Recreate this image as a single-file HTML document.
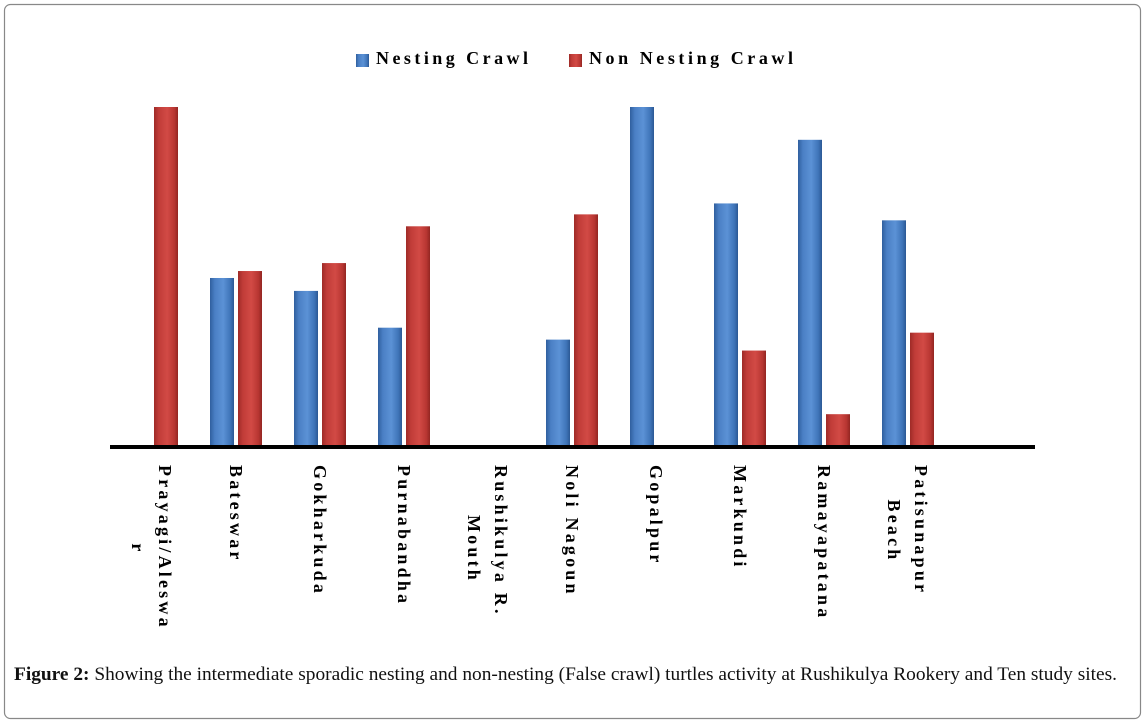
<!DOCTYPE html>
<html><head><meta charset="utf-8"><style>
html,body{margin:0;padding:0;background:#fff;}
#wrap{position:relative;width:1146px;height:724px;overflow:hidden;}
</style></head><body>
<div id="wrap">
<svg id="chart" width="1146" height="724" xmlns="http://www.w3.org/2000/svg">
<defs>
<linearGradient id="gb" x1="0" x2="1" y1="0" y2="0">
<stop offset="0" stop-color="#2f5f9e"/><stop offset="0.2" stop-color="#4a7fc4"/><stop offset="0.55" stop-color="#5b92d6"/><stop offset="0.85" stop-color="#3f74b8"/><stop offset="1" stop-color="#2b5894"/>
</linearGradient>
<linearGradient id="gr" x1="0" x2="1" y1="0" y2="0">
<stop offset="0" stop-color="#9e2a27"/><stop offset="0.2" stop-color="#c03c38"/><stop offset="0.55" stop-color="#d24a45"/><stop offset="0.85" stop-color="#b83632"/><stop offset="1" stop-color="#922622"/>
</linearGradient>
</defs>
<rect x="4.5" y="4.5" width="1136" height="714" rx="6" fill="none" stroke="#888" stroke-width="1.2"/>
<g font-family="'Liberation Serif',serif" font-weight="bold" font-size="18">
<rect x="356" y="54" width="13" height="13" fill="url(#gb)"/>
<text x="376" y="64" textLength="152" lengthAdjust="spacing">Nesting  Crawl</text>
<rect x="569" y="54" width="13" height="13" fill="url(#gr)"/>
<text x="589" y="64" textLength="204" lengthAdjust="spacing">Non  Nesting  Crawl</text>
</g>
<g id="bars"></g>
<line x1="110" y1="447" x2="1035" y2="447" stroke="#000" stroke-width="4"/>
<g id="labels" font-family="'Liberation Serif',serif" font-weight="bold" font-size="18" letter-spacing="3.2"></g>
<text x="14" y="680" textLength="1103" lengthAdjust="spacingAndGlyphs" font-family="'Liberation Serif',serif" font-size="18.5" fill="#111"><tspan font-weight="bold">Figure 2:</tspan> Showing the intermediate sporadic nesting and non-nesting (False crawl) turtles activity at Rushikulya Rookery and Ten study sites.</text>
</svg>
</div>
<script>
const categories = [["Prayagi/Aleswa","r"],["Bateswar"],["Gokharkuda"],["Purnabandha"],["Rushikulya  R.","Mouth"],["Noli  Nagoun"],["Gopalpur"],["Markundi"],["Ramayapatana"],["Patisunapur","Beach"]];
const nesting = [0,168,155,118,0,106,340,243,307,226];
const nonNesting = [340,175,183,220,0,232,0,95,31,113];
const NS='http://www.w3.org/2000/svg';
const baseY=445, maxV=340, plotH=338;
function yScale(v){return baseY - v/maxV*plotH;}
function xGroup(i){return 126 + i*84;}
const bars=document.getElementById('bars');
function bar(x,v,fill,name){
  if(v<=0) return;
  const r=document.createElementNS(NS,'rect');
  r.setAttribute('x',x); r.setAttribute('y',yScale(v));
  r.setAttribute('width',24); r.setAttribute('height',baseY-yScale(v));
  r.setAttribute('fill',fill);
  
  
  bars.appendChild(r);
}
categories.forEach((c,i)=>{
  bar(xGroup(i), nesting[i], 'url(#gb)', 'bar-nesting-'+i);
  bar(xGroup(i)+28, nonNesting[i], 'url(#gr)', 'bar-non-nesting-'+i);
});
const labels=document.getElementById('labels');
categories.forEach((lines,i)=>{
  const cx=xGroup(i)+26;
  const t=document.createElementNS(NS,'text');
  
  
  const x0 = cx - 6 + (lines.length>1?13:0);
  lines.forEach((ln,j)=>{
    const ts=document.createElementNS(NS,'tspan');
    const lx = x0 - j*27;
    ts.setAttribute('x',465); ts.setAttribute('y',-lx);
    ts.setAttribute('text-anchor', j>0?'middle':'start');
    if(j>0){ts.setAttribute('x',465 + (lines[0].length*12)/2);}
    ts.textContent=ln;
    t.appendChild(ts);
  });
  t.setAttribute('transform','rotate(90)');
  labels.appendChild(t);
});
</script>
</body></html>
